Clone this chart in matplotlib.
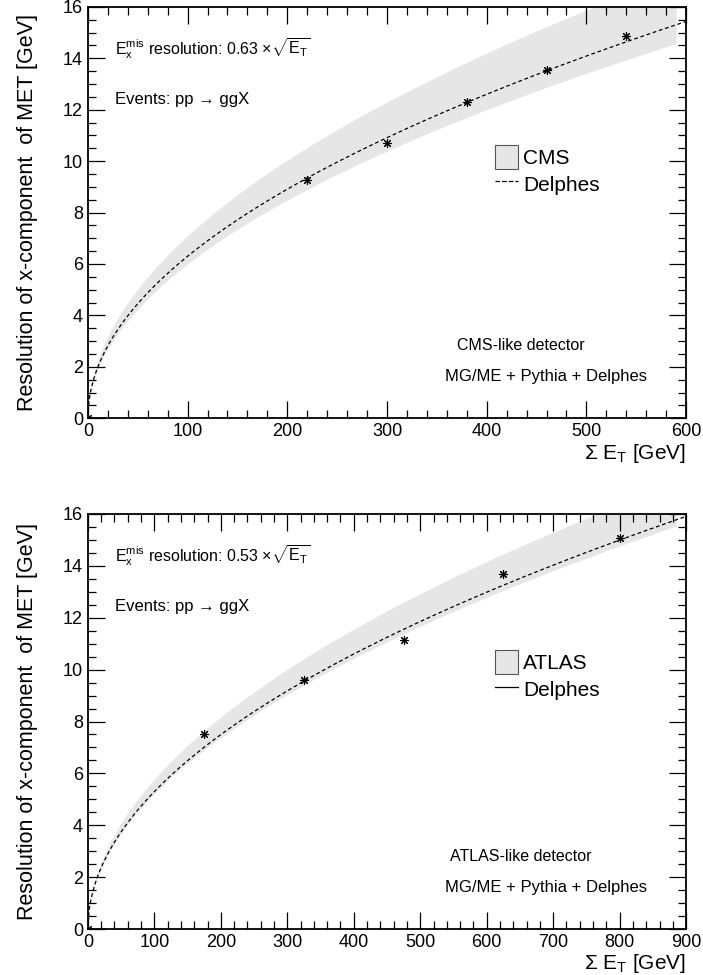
import numpy as np
import matplotlib
matplotlib.use("Agg")
import matplotlib.pyplot as plt
from matplotlib.ticker import MultipleLocator
from matplotlib.patches import Patch
from matplotlib.lines import Line2D

plt.rcParams['font.family'] = ['Liberation Sans', 'DejaVu Sans']
plt.rcParams['mathtext.fontset'] = 'custom'
plt.rcParams['mathtext.rm'] = 'Liberation Sans'
plt.rcParams['mathtext.it'] = 'Liberation Sans:italic'
plt.rcParams['mathtext.sf'] = 'Liberation Sans'

# CMS panel
cms_x = [0, 220, 300, 380, 460, 540]
cms_y = [0, 9.25, 10.7, 12.3, 13.55, 14.85]
cms_coef = 0.63
cms_band_lo, cms_band_hi = 0.60, 0.71
cms_band_max = 590
cms_xmax = 600

# ATLAS panel
atlas_x = [0, 175, 325, 475, 625, 800]
atlas_y = [0, 7.5, 9.6, 11.15, 13.7, 15.05]
atlas_coef = 0.53
atlas_band_lo, atlas_band_hi = 0.522, 0.578
atlas_band_max = 885
atlas_xmax = 900

panels = [
    dict(name="CMS", x=cms_x, y=cms_y, coef=cms_coef, lo=cms_band_lo, hi=cms_band_hi,
         bmax=cms_band_max, xmax=cms_xmax, det="CMS-like detector", leg_ls="--",
         rect=[0.125, 0.571, 0.851, 0.422], leg_y=0.665),
    dict(name="ATLAS", x=atlas_x, y=atlas_y, coef=atlas_coef, lo=atlas_band_lo, hi=atlas_band_hi,
         bmax=atlas_band_max, xmax=atlas_xmax, det="ATLAS-like detector", leg_ls="-",
         rect=[0.125, 0.047, 0.851, 0.426], leg_y=0.672),
]

fig = plt.figure(figsize=(7.03, 9.75), dpi=100)

for p in panels:
    ax = fig.add_axes(p["rect"])
    xb = np.linspace(0, p["bmax"], 400)
    ax.fill_between(xb, p["lo"] * np.sqrt(xb), p["hi"] * np.sqrt(xb),
                    color="#e6e6e6", lw=0, zorder=1)
    xl = np.linspace(0, p["xmax"], 600)
    ax.plot(xl, p["coef"] * np.sqrt(xl), color="black", lw=0.9,
            dashes=(3, 2.2), zorder=2)
    ax.plot(p["x"], p["y"], ls="none", marker=(8, 2, 0), ms=6.5, mew=0.8,
            color="black", zorder=3)

    ax.set_xlim(0, p["xmax"])
    ax.set_ylim(0, 16)
    ax.xaxis.set_major_locator(MultipleLocator(100))
    ax.xaxis.set_minor_locator(MultipleLocator(20))
    ax.yaxis.set_major_locator(MultipleLocator(2))
    ax.yaxis.set_minor_locator(MultipleLocator(0.5))
    ax.tick_params(which="both", direction="in", top=True, right=True,
                   labelsize=13, width=0.9)
    ax.tick_params(which="major", length=12)
    ax.tick_params(which="minor", length=6)
    for s in ax.spines.values():
        s.set_linewidth(1.3)

    ax.set_ylabel("Resolution of x-component  of MET [GeV]", fontsize=15.5,
                  labelpad=18)
    ax.set_xlabel(r"$\Sigma$ E$_{\rm T}$ [GeV]", fontsize=15, loc="right",
                  labelpad=1)

    ax.text(0.045, 0.885,
            r"E$_{\rm x}^{\rm mis}$ resolution: %.2f $\times\sqrt{\rm E_T}$" % p["coef"],
            transform=ax.transAxes, fontsize=11.5)
    ax.text(0.045, 0.765, "Events: pp \u2192 ggX",
            transform=ax.transAxes, fontsize=12)
    ax.text(0.724, 0.165, p["det"], transform=ax.transAxes, fontsize=11.5,
            ha="center")
    ax.text(0.766, 0.09, "MG/ME + Pythia + Delphes", transform=ax.transAxes,
            fontsize=12, ha="center")

    handles = [Patch(facecolor="#e6e6e6", edgecolor="#555555", lw=0.8),
               Line2D([], [], color="black", lw=0.9, ls=p["leg_ls"])]
    ax.legend(handles, [p["name"], "Delphes"], loc="upper left",
              bbox_to_anchor=(0.68, p["leg_y"]), frameon=False, fontsize=15,
              handlelength=1.1, handleheight=1.4, handletextpad=0.25,
              labelspacing=0.15, borderaxespad=0, borderpad=0)

fig.savefig("out.png", dpi=100)
